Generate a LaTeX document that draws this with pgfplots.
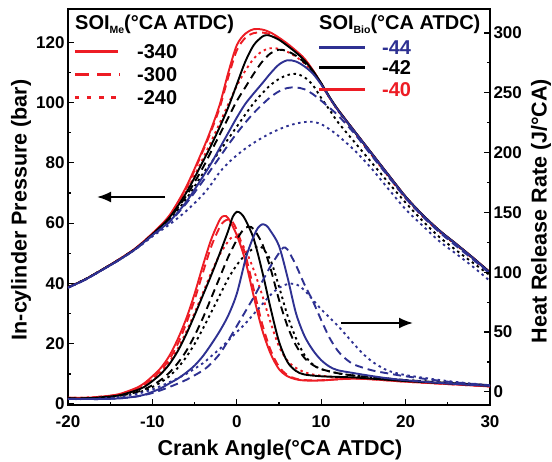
\documentclass[border=0pt]{standalone}
\usepackage{pgfplots}
\pgfplotsset{compat=1.18}
\usepackage{fontspec}
\setmainfont{Liberation Sans}
\usetikzlibrary{arrows.meta}
\definecolor{cred}{HTML}{ED1C24}
\definecolor{cblue}{HTML}{2E3192}

\pgfplotsset{
  base/.style={
    width=422pt, height=396pt, scale only axis,
    at={(0,0)}, anchor=south west,
    xmin=-20, xmax=30,
    tick align=inside,
    axis line style={line width=1.6pt},
    major tick length=6pt, minor tick length=3.5pt,
    tick style={line width=1.2pt, black},
    tick label style={font=\bfseries\fontsize{17}{17}\selectfont},
    xticklabel style={yshift=-7pt},
    /pgf/number format/assume math mode=true,
  },
  so/.style={line width=1.9pt, smooth},
  da/.style={line width=1.9pt, smooth, dash pattern=on 8pt off 5pt},
  dt/.style={line width=1.9pt, smooth, dash pattern=on 2.5pt off 3.6pt},
}

\begin{document}
\begin{tikzpicture}
\path[use as bounding box] (-68pt,-56pt) rectangle (484pt,405pt);

% pressure, left axis
\begin{axis}[base,
  ymin=-0.3, ymax=131,
  xtick={-20,-10,...,30}, minor x tick num=1, xtick pos=bottom,
  ytick={0,20,...,120}, minor y tick num=1, ytick pos=left,
]
% SOI_Bio -40 (red)
\addplot[so, cred] coordinates {(-20,38.7)(-18,41.3)(-16,44.5)(-14,47.9)(-12,51.7)(-10,56.6)(-8,62.5)(-6,72)(-4,84.5)(-3,91.5)(-2,99.5)(-1,110)(0,119)(1,122.8)(2,124.3)(3,124.2)(4,123.2)(5,121.5)(6,119.5)(7,117.2)(8,114.6)(9,110.8)(10,106.3)(11,101.6)(12,97.6)(14,90.3)(16,83.1)(18,75.9)(20,68.8)(22,62.8)(24,57.6)(26,53.1)(28,48.5)(30,43.7)};
\addplot[da, cred] coordinates {(-20,38.7)(-18,41.3)(-16,44.5)(-14,47.9)(-12,51.6)(-10,56.5)(-8,62.3)(-6,71.5)(-4,84)(-3,90.8)(-2,98.5)(-1,108.5)(0,117.3)(1,121.4)(2,123)(3,123.2)(4,122.6)(5,121.2)(6,119.2)(7,117)(8,114.4)(9,110.7)(10,106.2)(11,101.5)(12,97.5)(14,90.2)(16,83)(18,75.8)(20,68.7)(22,62.7)(24,57.5)(26,53)(28,48.4)(30,43.6)};
\addplot[dt, cred] coordinates {(-20,38.7)(-18,41.3)(-16,44.5)(-14,47.9)(-12,51.6)(-10,56.4)(-8,62)(-6,70.5)(-4,81.5)(-3,87.3)(-2,93.3)(-1,99.5)(0,105.5)(1,110.5)(2,114.5)(3,117)(4,118)(5,117.8)(6,116.8)(7,115.2)(8,113)(9,110)(10,106)(11,101.5)(12,97.2)(14,89.8)(16,82.5)(18,75.3)(20,68.2)(22,62.3)(24,57.1)(26,52.7)(28,48.1)(30,43.3)};
% SOI_Bio -42 (black)
\addplot[so, black] coordinates {(-20,38.7)(-18,41.3)(-16,44.5)(-14,47.8)(-12,51.5)(-10,56.3)(-8,61.8)(-6,70)(-4,80.5)(-3,86)(-2,92)(-1,98.5)(0,106)(1,113.5)(2,119)(3,121.8)(3.5,122.3)(4,122.1)(5,120.8)(6,118.8)(7,116.6)(8,114)(9,110.6)(10,106.4)(11,101.8)(12,97.6)(14,90.3)(16,83.1)(18,75.9)(20,68.8)(22,62.8)(24,57.6)(26,53.1)(28,48.5)(30,43.7)};
\addplot[da, black] coordinates {(-20,38.7)(-18,41.3)(-16,44.5)(-14,47.8)(-12,51.5)(-10,56.2)(-8,61.5)(-6,69)(-4,78.5)(-3,84)(-2,89.5)(-1,95)(0,100.5)(1,105)(2,109.5)(3,113.5)(4,116.3)(5,117.5)(6,117)(7,115.5)(8,113.3)(9,110.3)(10,106.3)(11,101.7)(12,97.4)(14,90.1)(16,82.9)(18,75.7)(20,68.6)(22,62.6)(24,57.4)(26,52.9)(28,48.3)(30,43.5)};
\addplot[dt, black] coordinates {(-20,38.7)(-18,41.3)(-16,44.5)(-14,47.8)(-12,51.5)(-10,56.1)(-8,61)(-6,68)(-4,76.5)(-3,80.2)(-2,84)(-1,88)(0,92)(1,96)(2,99.8)(3,103)(4,105.8)(5,107.8)(6,109.1)(7,109.5)(8,108.4)(9,105.8)(10,101.5)(11,97.5)(12,93.4)(14,86.7)(16,80)(18,73.3)(20,66.8)(22,60.8)(24,55.4)(26,51)(28,46.8)(30,42.7)};
% SOI_Bio -44 (blue)
\addplot[so, cblue] coordinates {(-20,38.6)(-18,41.2)(-16,44.4)(-14,47.7)(-12,51.4)(-10,56)(-8,60.5)(-6,67)(-4,75.5)(-3,80)(-2,85)(-1,90)(0,95)(1,99.5)(2,103)(3,106.3)(4,109.7)(5,112.6)(6,114)(7,113.6)(8,112)(9,109.6)(10,106)(11,101.6)(12,97.4)(14,90.2)(16,83)(18,75.8)(20,68.7)(22,62.7)(24,57.5)(26,53)(28,48.4)(30,43.5)};
\addplot[da, cblue] coordinates {(-20,38.6)(-18,41.2)(-16,44.4)(-14,47.7)(-12,51.4)(-10,55.9)(-8,60.3)(-6,66.5)(-4,74)(-3,78)(-2,82)(-1,86)(0,89.8)(1,93.3)(2,96.5)(3,99.3)(4,101.8)(5,103.7)(6,104.8)(7,105)(8,104.4)(9,102.8)(10,100.6)(11,98.2)(12,95.7)(14,89.5)(16,82.3)(18,75.3)(20,68.3)(22,62.3)(24,57)(26,52.4)(28,47.9)(30,43.2)};
\addplot[dt, cblue] coordinates {(-20,38.6)(-18,41.2)(-16,44.4)(-14,47.7)(-12,51.3)(-10,55.6)(-8,59.5)(-6,64)(-4,69.5)(-3,73)(-2,77)(-1,80)(0,82.5)(1,84.7)(2,86.6)(3,88.3)(4,89.8)(5,91.1)(6,92.2)(7,93)(8,93.5)(9,93.6)(10,92.8)(11,91.1)(12,89)(14,84)(16,78)(18,71.2)(20,64.6)(22,59.2)(24,54)(26,49.8)(28,45.5)(30,40.8)};
\end{axis}

% heat release rate, right axis
\begin{axis}[base,
  ymin=-11, ymax=320,
  axis x line=none, axis y line*=right,
  ytick={0,50,...,300}, minor y tick num=1,
]
% red
\addplot[so, cred] coordinates {(-20,-5)(-18,-5)(-16,-4)(-14,-2)(-12,3)(-11,7)(-10,13)(-9,20)(-8,30)(-7,44)(-6,61)(-5,82)(-4,106)(-3,128)(-2,144)(-1.5,147)(-1,145)(0,131)(1,110)(2,80)(3,52)(4,32)(5,19)(6,13)(7,10.5)(8,9.5)(10,9.5)(12,10.5)(14,11)(16,10.5)(18,9.5)(20,8.5)(25,6.5)(30,4.5)};
\addplot[da, cred] coordinates {(-20,-5)(-18,-5)(-16,-4)(-14,-2.5)(-12,2)(-11,6)(-10,11)(-9,18)(-8,27)(-7,40)(-6,57)(-5,77)(-4,100)(-3,122)(-2,138)(-1.5,142.5)(-1,144)(-0.5,142)(0,135)(1,115)(2,86)(3,57)(4,35)(5,21)(6,14)(7,11)(8,9.8)(10,9.7)(12,10.5)(14,11)(16,10.5)(18,9.5)(20,8.5)(25,6.5)(30,4.5)};
\addplot[dt, cred] coordinates {(-20,-5)(-18,-5)(-16,-4)(-14,-2.5)(-12,1.5)(-11,5)(-10,10)(-9,16)(-8,25)(-7,36)(-6,50)(-5,66)(-4,83)(-3,100)(-2,115)(-1,126)(-0.5,129.5)(0,129)(1,119)(2,102)(3,81)(4,58)(5,38)(6,26)(7,20)(8,16.5)(9,14.5)(10,13.5)(12,12)(14,11.5)(16,10.8)(18,9.8)(20,8.8)(25,6.8)(30,5)};
% black
\addplot[so, black] coordinates {(-20,-5.5)(-18,-5.5)(-16,-4.5)(-14,-3)(-12,1)(-11,4)(-10,9)(-9,15)(-8,23)(-7,34)(-6,48)(-5,64)(-4,81)(-3,98)(-2,116)(-1,135)(-0.5,146)(0,150.5)(0.5,149)(1,144)(2,128)(3,101)(4,70)(5,42)(6,25)(7,17.5)(8,14.5)(10,13)(12,12.5)(14,12)(16,11)(18,10)(20,9)(25,7)(30,5)};
\addplot[da, black] coordinates {(-20,-5.5)(-18,-5.5)(-16,-5)(-14,-3.5)(-12,-0.5)(-11,2)(-10,5.5)(-9,10)(-8,16)(-7,24)(-6,34)(-5,47)(-4,62)(-3,79)(-2,96)(-1,113)(0,127)(0.5,133)(1,137)(1.5,138)(2,136)(3,124)(4,103)(5,77)(6,55)(7,39)(8,28.5)(9,22.5)(10,19)(12,15.5)(14,13.5)(16,12.3)(18,11)(20,9.8)(25,7.5)(30,5.5)};
\addplot[dt, black] coordinates {(-20,-5.5)(-18,-5.5)(-16,-5)(-14,-4)(-12,-1)(-11,1)(-10,4)(-9,8)(-8,13)(-7,20)(-6,29)(-5,40)(-4,53)(-3,67)(-2,81)(-1,95)(0,106)(1,114.5)(2,120)(2.5,121.5)(3,120.5)(4,110)(5,88)(6,64)(7,45)(8,31)(9,23)(10,19)(12,15.5)(14,13.5)(16,12.3)(18,11)(20,9.8)(25,7.5)(30,5.5)};
% blue
\addplot[so, cblue] coordinates {(-20,-6)(-18,-6)(-16,-6)(-14,-5.5)(-12,-4)(-11,-2.5)(-10,0)(-9,3)(-8,7)(-7,11)(-6,16)(-5,22)(-4,30)(-3,40)(-2,51)(-1,64)(0,82)(1,110)(1.5,121)(2,130)(2.5,137)(3,140)(3.5,139)(4,134.5)(5,122)(6,96)(7,66)(8,47)(9,35)(10,26.5)(11,21)(12,18)(14,15.5)(16,13.2)(18,11.2)(20,9.7)(25,7)(30,5)};
\addplot[da, cblue] coordinates {(-20,-6)(-18,-6)(-16,-6)(-14,-5.5)(-12,-4)(-10,-1)(-8,4)(-6,10)(-4,18)(-3,24)(-2,32)(-1,43)(0,55)(1,67)(2,79)(3,92)(4,105)(5,116)(5.5,120.5)(6,119)(7,106)(8,90)(9,76)(10,60)(11,45)(12,34)(13,27)(14,22.5)(16,18)(18,15.3)(20,13)(25,8.5)(30,5.5)};
\addplot[dt, cblue] coordinates {(-20,-6)(-18,-6)(-16,-5.5)(-14,-4.5)(-12,-2)(-10,2)(-8,8)(-6,15)(-4,24)(-3,30)(-2,36)(-1,43)(0,50)(1,57)(2,65)(3,73)(4,81)(5,87)(6,90)(7,90)(8,85)(9,77)(10,69)(11,62)(12,55)(13,47)(14,39)(15,31.5)(16,25.5)(17,21)(18,17.5)(20,14)(25,9)(30,5.5)};
\end{axis}

% axis labels
\begin{scope}[font=\bfseries\fontsize{21.5}{22}\selectfont]
\node[anchor=base] at (212pt,-50pt) {Crank Angle(°CA ATDC)};
\node[rotate=90] at (-47pt,195pt) {In-cylinder Pressure (bar)};
\node[rotate=90] at (473pt,194pt) {Heat Release Rate (J/°CA)};
\end{scope}

% arrows
\draw[line width=1.9pt, -{Latex[length=14pt,width=11pt]}] (97pt,208pt) -- (29pt,208pt);
\draw[line width=1.9pt, -{Latex[length=14pt,width=11pt]}] (273pt,82pt) -- (345pt,82pt);

% legends
\begin{scope}[font=\bfseries\fontsize{20}{20}\selectfont, every node/.style={inner sep=0pt}]
\node[anchor=base west] at (7pt,375pt) {SOI\raisebox{-0.35ex}{\fontsize{10.5}{10.5}\selectfont Me}(°CA ATDC)};
\draw[cred, line width=3pt] (7pt,353pt) -- (50pt,353pt);
\draw[cred, line width=3pt, dash pattern=on 14pt off 8pt] (7pt,330pt) -- (52pt,330pt);
\draw[cred, line width=3pt, dash pattern=on 4.5pt off 7.5pt] (7pt,307pt) -- (52pt,307pt);
\node[anchor=west] at (69pt,353pt) {-340};
\node[anchor=west] at (69pt,330pt) {-300};
\node[anchor=west] at (69pt,307pt) {-240};

\node[anchor=base west] at (251pt,375pt) {SOI\raisebox{-0.35ex}{\fontsize{10.5}{10.5}\selectfont Bio}(°CA ATDC)};
\draw[cblue, line width=3pt] (251pt,357pt) -- (297pt,357pt);
\draw[black, line width=3pt] (251pt,337pt) -- (297pt,337pt);
\draw[cred, line width=3pt] (251pt,315pt) -- (297pt,315pt);
\node[anchor=west, text=cblue] at (314pt,357pt) {-44};
\node[anchor=west, text=black] at (314pt,337pt) {-42};
\node[anchor=west, text=cred] at (314pt,315pt) {-40};
\end{scope}
\end{tikzpicture}
\end{document}
